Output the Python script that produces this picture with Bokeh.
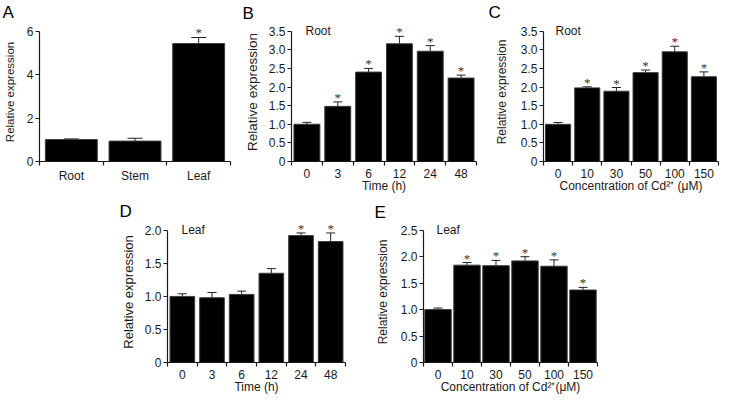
from bokeh.plotting import figure
from bokeh.models import (ColumnDataSource, Range1d, FixedTicker, Whisker, TeeHead,
                          Label, LabelSet, Spacer)
from bokeh.layouts import row, column
from bokeh.embed import file_html
from bokeh.resources import INLINE

# ---------------- data ----------------
tissue_cats = ["Root", "Stem", "Leaf"]
a_vals = [1.01, 0.94, 5.43]
a_errs = [0.03, 0.13, 0.28]
a_sig = ["", "", "*"]

time_cats = ["0", "3", "6", "12", "24", "48"]
cd_cats = ["0", "10", "30", "50", "100", "150"]

b_vals = [1.00, 1.48, 2.40, 3.16, 2.96, 2.24]
b_errs = [0.05, 0.12, 0.10, 0.20, 0.15, 0.08]
b_sig = ["", "*", "*", "*", "*", "*"]

c_vals = [1.00, 1.98, 1.89, 2.39, 2.95, 2.28]
c_errs = [0.05, 0.03, 0.10, 0.07, 0.15, 0.13]
c_sig = ["", "*", "*", "*", "*", "*"]

d_vals = [1.00, 0.98, 1.03, 1.35, 1.92, 1.83]
d_errs = [0.04, 0.08, 0.05, 0.07, 0.04, 0.13]
d_sig = ["", "", "", "", "*", "*"]

e_vals = [1.00, 1.84, 1.83, 1.92, 1.82, 1.37]
e_errs = [0.03, 0.05, 0.10, 0.08, 0.12, 0.05]
e_sig = ["", "*", "*", "*", "*", "*"]

a_yticks = [0, 2, 4, 6]
b_yticks = [0, 0.5, 1.0, 1.5, 2.0, 2.5, 3.0, 3.5]
c_yticks = [0, 0.5, 1.0, 1.5, 2.0, 2.5, 3.0, 3.5]
d_yticks = [0, 0.5, 1.0, 1.5, 2.0]
e_yticks = [0, 0.5, 1.0, 1.5, 2.0, 2.5]

FONT = "Liberation Sans"
INK = "#1a1a1a"
HEAD = 9  # px of free space above the top tick (for stars / inset labels)


def panel(cats, vals, errs, sig, yticks, letter, inset, xlabel, ylabel_size,
          bar_w, cap, width, height, mbl, mbr, mbt, mbb, ylab_standoff,
          letter_offset, letter_standoff, inset_dx):
    n = len(cats)
    xs = [i + 0.5 for i in range(n)]
    ymax = yticks[-1]
    tick_h = height - mbt - mbb - HEAD
    src = ColumnDataSource(dict(x=xs, top=vals,
                                upper=[v + e for v, e in zip(vals, errs)],
                                sig=sig))
    p = figure(width=width, height=height, x_range=Range1d(0, n),
               y_range=Range1d(0, ymax * (tick_h + HEAD) / tick_h),
               output_backend="svg", toolbar_location=None,
               min_border_left=mbl, min_border_right=mbr,
               min_border_top=mbt, min_border_bottom=mbb)
    p.outline_line_color = None
    p.grid.visible = False
    p.background_fill_color = "white"
    p.border_fill_color = "white"

    p.title.text = letter
    p.title.align = "left"
    p.title.vertical_align = "top"
    p.title.offset = letter_offset
    p.title.standoff = letter_standoff
    p.title.text_font = FONT
    p.title.text_font_size = "17px"
    p.title.text_font_style = "normal"
    p.title.text_color = "black"

    p.vbar(x="x", top="top", bottom=0, width=bar_w, source=src,
           fill_color="black", line_color="#3a3a3a", line_width=1)
    p.add_layout(Whisker(source=src, base="x", lower="top", upper="upper",
                         dimension="height", line_color="#222222", line_width=1,
                         upper_head=TeeHead(size=cap, line_color="#222222", line_width=1),
                         lower_head=None))
    p.add_layout(LabelSet(x="x", y="upper", text="sig", source=src,
                          text_align="center", text_baseline="alphabetic",
                          text_font=FONT, text_font_size="13px",
                          text_color="#333333", y_offset=0))

    xa = p.xaxis[0]
    xa.ticker = FixedTicker(ticks=xs, minor_ticks=list(range(n + 1)))
    xa.major_label_overrides = {x: c for x, c in zip(xs, cats)}
    xa.major_tick_out = 0
    xa.major_tick_in = 0
    xa.minor_tick_out = 4
    xa.minor_tick_in = 0
    xa.minor_tick_line_color = INK
    xa.minor_tick_line_width = 1.2
    xa.axis_line_color = INK
    xa.axis_line_width = 1.2
    xa.major_label_standoff = 3
    xa.major_label_text_font = FONT
    xa.major_label_text_font_size = "12px"
    xa.major_label_text_color = INK
    if xlabel:
        xa.axis_label = xlabel
        xa.axis_label_standoff = -2
        xa.axis_label_text_font = FONT
        xa.axis_label_text_font_size = "12px"
        xa.axis_label_text_font_style = "normal"
        xa.axis_label_text_color = INK

    ya = p.yaxis[0]
    ya.bounds = (0, ymax)
    ya.ticker = FixedTicker(ticks=yticks, minor_ticks=[])
    step = yticks[1] - yticks[0]
    ya.major_label_overrides = {
        t: ("0" if t == 0 else (f"{t:.1f}" if step < 1 else f"{t:g}")) for t in yticks}
    ya.major_tick_out = 4
    ya.major_tick_in = 0
    ya.minor_tick_out = 0
    ya.minor_tick_in = 0
    ya.major_tick_line_color = INK
    ya.major_tick_line_width = 1.2
    ya.axis_line_color = INK
    ya.axis_line_width = 1.2
    ya.major_label_standoff = 2
    ya.major_label_text_font = FONT
    ya.major_label_text_font_size = "12px"
    ya.major_label_text_color = INK
    ya.axis_label = "Relative expression"
    ya.axis_label_standoff = ylab_standoff
    ya.axis_label_text_font = FONT
    ya.axis_label_text_font_size = ylabel_size
    ya.axis_label_text_font_style = "normal"
    ya.axis_label_text_color = INK

    if inset:
        p.add_layout(Label(x=0, y=ymax, x_offset=inset_dx, text=inset,
                           text_font=FONT, text_font_size="12px", text_color=INK,
                           text_baseline="middle", text_align="left"))
    return p


#            cats, vals, errs, sig, yticks, letter, inset, xlabel, ylab size,
#            bar_w, cap, width, height, mbl, mbr, mbt, mbb, ylab_standoff,
#            letter offset, letter standoff, inset dx
pA = panel(tissue_cats, a_vals, a_errs, a_sig, a_yticks, "A", None, None, "11.5px",
           0.815, 15, 241, 198, 37, 11, 22, 32, 8,
           -37, -2, 0)
pB = panel(time_cats, b_vals, b_errs, b_sig, b_yticks, "B", "Root", "Time (h)", "13.5px",
           0.84, 9, 247, 198, 47, 12, 18, 35, 6,
           -49, -5, 14)
pC = panel(cd_cats, c_vals, c_errs, c_sig, c_yticks, "C", "Root",
           "Concentration of Cd\u00b2\u207a (\u03bcM)", "12px",
           0.86, 9, 234, 198, 55, 4, 20, 37, 9,
           -55, -2, 12)
pD = panel(time_cats, d_vals, d_errs, d_sig, d_yticks, "D", "Leaf", "Time (h)", "13px",
           0.83, 9, 255, 200, 47, 27, 23, 33, 6,
           -48, -3, 14)
pE = panel(cd_cats, e_vals, e_errs, e_sig, e_yticks, "E", "Leaf",
           "Concentration of Cd\u00b2\u207a(\u03bcM)", "12px",
           0.91, 9, 235, 200, 48, 10, 19, 36, 8,
           -49, -5, 13)

layout = column(row(pA, pB, pC),
                row(Spacer(width=117, height=200), pD, pE))

open("out.html", "w").write(file_html(layout, INLINE))
